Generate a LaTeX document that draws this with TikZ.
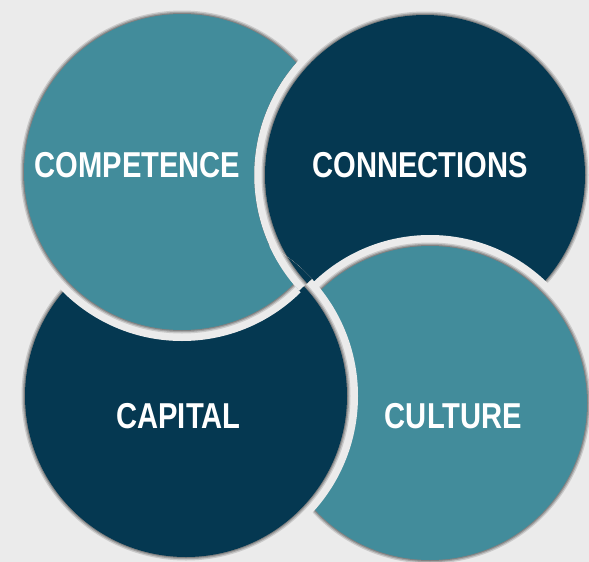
\documentclass[tikz,border=0pt]{standalone}
\usepackage{fontspec}
\newfontfamily\labelfont{Liberation Sans}[FakeStretch=0.81]
\definecolor{bgc}{RGB}{235,235,235}
\definecolor{tealc}{RGB}{66,140,155}
\definecolor{navyc}{RGB}{5,56,81}
\colorlet{edgeA}{bgc!86!black}
\colorlet{edgeB}{bgc!70!black}
\colorlet{edgeC}{bgc!55!black}
% a disc with a light gap ring and a soft dark rim: centre, radius (pt), colour
\newcommand\ringdisc[3]{%
  \fill[bgc] (#1) circle[radius=#2pt+11pt];
  \fill[edgeA] (#1) circle[radius=#2pt+3.5pt];
  \fill[edgeB] (#1) circle[radius=#2pt+2.2pt];
  \fill[edgeC] (#1) circle[radius=#2pt+1pt];
  \fill[#3] (#1) circle[radius=#2pt];
}
\tikzset{
  lab/.style={text=white, inner sep=0pt,
    font=\labelfont\bfseries\fontsize{36}{36}\selectfont}
}
\begin{document}
\begin{tikzpicture}[x=1pt, y=-1pt]
  \useasboundingbox (0,0) rectangle (589,562);
  \fill[bgc] (0,0) rectangle (589,562);
  \coordinate (tl) at (182,172);
  \coordinate (tr) at (425,175);
  \coordinate (bl) at (186,396);
  \coordinate (br) at (430,403);
  % woven stacking: each disc lies over the next one clockwise
  \ringdisc{tr}{160}{navyc}
  \ringdisc{br}{157}{tealc}
  \ringdisc{bl}{161}{navyc}
  % the top-left disc stays under the top-right one: clip away that
  % disc's gap ring (frame clockwise, circle anticlockwise = hole)
  \begin{scope}
    \clip (-10,-10) -- (600,-10) -- (600,600) -- (-10,600) -- cycle
      (tr) circle[radius=171pt];
    \ringdisc{tl}{158}{tealc}
  \end{scope}
  % above the central crossing the top-right disc also covers the bottom-left one
  \begin{scope}
    \clip (bl) circle[radius=172pt];
    \clip (230,355) -- (376,219) -- (376,100) -- (150,100) -- (150,355) -- cycle;
    \ringdisc{tr}{160}{navyc}
  \end{scope}
  \node[lab] (competence) at (137.5,165) {COMPETENCE};
  \node[lab] (connections) at (420,165) {CONNECTIONS};
  \node[lab] (capital) at (178.5,416) {CAPITAL};
  \node[lab] (culture) at (453.5,416) {CULTURE};
\end{tikzpicture}
\end{document}
